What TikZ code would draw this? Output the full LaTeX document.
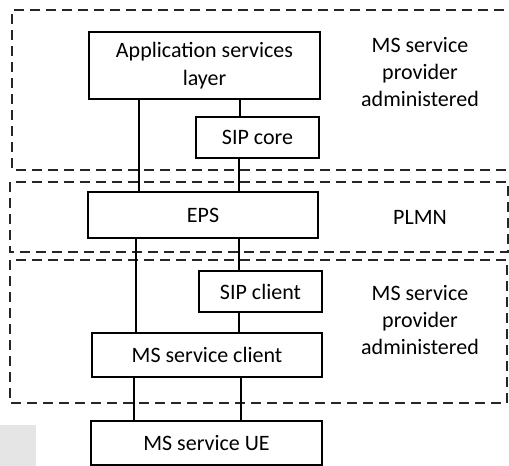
\documentclass[tikz,border=0pt]{standalone}
\usepackage{fontspec}
\setmainfont{Carlito}
\begin{document}
\begin{tikzpicture}[x=0.75pt,y=-0.75pt,font=\fontsize{16.5}{20.5}\selectfont,
    blk/.style={draw,line width=1.6pt,inner sep=0pt,align=center},
    zone/.style={draw=black!85,line width=1.5pt,dash pattern=on 7.5pt off 4.5pt},
    link/.style={line width=1.3pt}]
  \useasboundingbox (0,0) rectangle (509,466);
  % administrative domains
  \draw[zone] (520,10) -- (12,10) -- (12,170) -- (520,170);
  \draw[zone] (10,182) rectangle (508,252);
  \draw[zone] (10,260) rectangle (507,403);
  \fill[black!10] (0,425) rectangle (36,466);
  % functional blocks
  \node[blk,minimum width=173pt,minimum height=50pt] (app) at (204.5,65.5)
    {Application services\\layer};
  \node[blk,minimum width=92pt,minimum height=31pt] (sipcore) at (257.5,137.5) {SIP core};
  \node[blk,minimum width=172.5pt,minimum height=34.5pt] (eps) at (203,215) {EPS};
  \node[blk,minimum width=92pt,minimum height=31pt] (sipclient) at (260.5,291.5) {SIP client};
  \node[blk,minimum width=172.5pt,minimum height=33pt] (msclient) at (207,355) {MS service client};
  \node[blk,minimum width=173pt,minimum height=33pt] (msue) at (206.5,443) {MS service UE};
  % domain labels
  \node[align=center] (top) at (420,72) {MS service\\provider\\administered};
  \node (plmn) at (420,217) {PLMN};
  \node[align=center] (bot) at (420,320) {MS service\\provider\\administered};
  % interfaces
  \draw[link] (139,0 |- app.south) -- (139,0 |- eps.north);
  \draw[link] (240,0 |- app.south) -- (240,0 |- sipcore.north);
  \draw[link] (239,0 |- sipcore.south) -- (239,0 |- eps.north);
  \draw[link] (136,0 |- eps.south) -- (136,0 |- msclient.north);
  \draw[link] (239,0 |- eps.south) -- (239,0 |- sipclient.north);
  \draw[link] (239,0 |- sipclient.south) -- (239,0 |- msclient.north);
  \draw[link] (134,0 |- msclient.south) -- (134,0 |- msue.north);
  \draw[link] (241,0 |- msclient.south) -- (241,0 |- msue.north);
\end{tikzpicture}
\end{document}
